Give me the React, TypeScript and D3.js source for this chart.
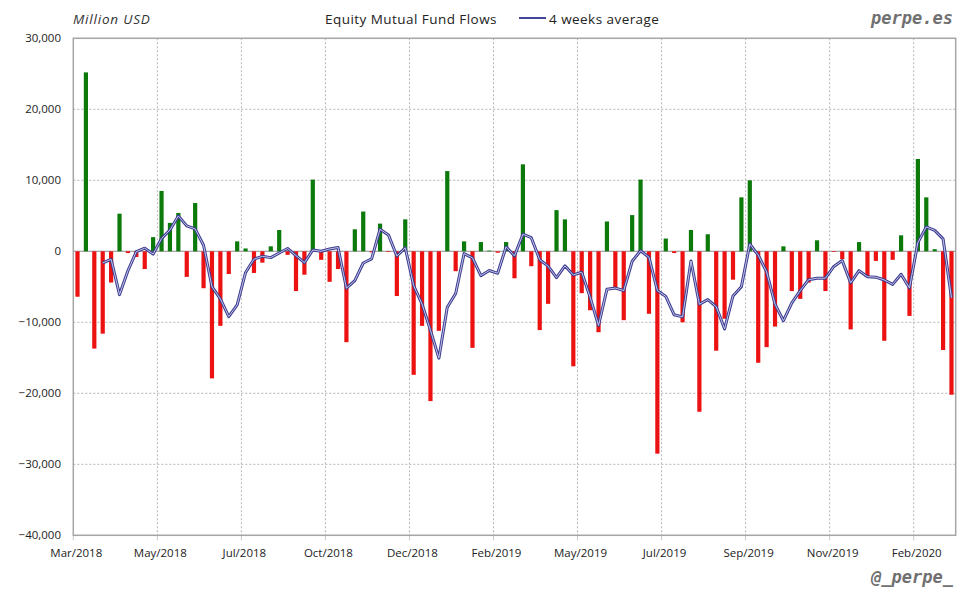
import React from "react";
import * as d3 from "d3";

// Weekly equity mutual fund flows, thousand million USD
const flows: number[] = [
  -6.4, 25.2, -13.7, -11.6, -4.4, 5.3, -0.25, -0.8, -2.5, 2.0,
  8.5, 4.0, 5.4, -3.6, 6.8, -5.2, -17.9, -10.5, -3.2, 1.4,
  0.4, -3.05, -1.6, 0.7, 3.0, -0.5, -5.6, -3.3, 10.1, -1.2,
  -4.3, -2.5, -12.8, 3.1, 5.6, -0.15, 3.9, -0.1, -6.3, 4.5,
  -17.4, -10.5, -21.1, -11.2, 11.3, -2.8, 1.4, -13.6, 1.3, 0.1,
  -0.2, 1.3, -3.8, 12.25, -2.1, -11.1, -7.4, 5.8, 4.5, -16.2,
  -5.9, -8.3, -11.4, 4.2, -5.2, -9.7, 5.1, 10.1, -8.8, -28.5,
  1.8, -0.25, -10.0, 3.0, -22.6, 2.4, -14.0, -9.5, -4.0, 7.6,
  10.0, -15.7, -13.5, -10.6, 0.7, -5.6, -6.7, -4.4, 1.55, -5.6,
  -0.1, -1.1, -11.0, 1.3, -3.5, -1.35, -12.6, -1.2, 2.25, -9.1,
  13.0, 7.6, 0.3, -13.9, -20.2,
];

// 4 weeks average, starting at week index 3
const avgStart = 3;
const avg4: number[] = [
  -1.63, -1.13, -6.1, -2.74, -0.04, 0.44, -0.39, 1.8, 3.0, 4.98,
  3.58, 3.15, 0.85, -4.98, -6.7, -9.2, -7.55, -2.98, -1.11, -0.71,
  -0.89, -0.24, 0.4, -0.6, -1.6, 0.18, 0.0, 0.33, 0.53, -5.2,
  -4.13, -1.65, -1.06, 3.11, 2.31, -0.66, 0.5, -4.83, -7.43, -11.13,
  -15.05, -7.88, -5.95, -0.33, -0.93, -3.43, -2.7, -3.1, 0.63, -0.65,
  2.41, 1.91, -1.19, -2.09, -3.7, -2.05, -3.33, -2.95, -6.48, -10.45,
  -5.35, -5.18, -5.53, -1.4, 0.08, -0.83, -5.53, -6.35, -8.94, -9.24,
  -1.36, -7.46, -6.8, -7.8, -10.93, -6.28, -4.98, 1.03, -0.53, -2.9,
  -7.45, -9.78, -7.25, -5.55, -4.0, -3.79, -3.79, -2.14, -1.31, -4.45,
  -2.73, -3.58, -3.64, -4.04, -4.66, -3.23, -5.16, 1.24, 3.44, 2.95,
  1.75, -6.55,
];

const tickIndex: number[] = [0, 10, 20, 30, 40, 50, 60, 70, 80, 90, 100];
const tickLabels: string[] = [
  "Mar/2018", "May/2018", "Jul/2018", "Oct/2018", "Dec/2018", "Feb/2019",
  "May/2019", "Jul/2019", "Sep/2019", "Nov/2019", "Feb/2020",
];
const yTicks: number[] = [30000, 20000, 10000, 0, -10000, -20000, -30000, -40000];

const W = 980;
const H = 600;
const L = 73.3;
const R = 955.7;
const T = 38.3;
const B = 535.3;
const FONT = "'Open Sans', sans-serif";
const MONO = "'DejaVu Sans Mono', monospace";

export default function App() {
  const x = d3
    .scaleBand<number>()
    .domain(d3.range(flows.length))
    .range([L, R])
    .padding(0);
  const y = d3.scaleLinear().domain([-40000, 30000]).range([B, T]);
  const bw = x.bandwidth();
  const barW = bw * 0.5;
  const fmt = d3.format(",");

  const avgPts: [number, number][] = avg4.map((v, i) => [
    (x(i + avgStart) as number) + bw / 2,
    y(v * 1000),
  ]);
  const line = d3.line().curve(d3.curveLinear)(avgPts) || "";

  return (
    <div style={{ position: "fixed", left: 0, top: 0 }}>
      <svg width={W} height={H} style={{ display: "block", background: "#fff" }}>
        <rect x={0} y={0} width={W} height={H} fill="#fff" />
        {/* horizontal gridlines */}
        {yTicks.map((t) => (
          <line
            key={"h" + t}
            x1={L}
            x2={R}
            y1={y(t)}
            y2={y(t)}
            stroke="#b4b4b4"
            strokeWidth={1}
            strokeDasharray="2,2"
          />
        ))}
        {/* vertical gridlines + ticks */}
        {tickIndex.slice(1).map((ti) => (
          <line
            key={"v" + ti}
            x1={x(ti) as number}
            x2={x(ti) as number}
            y1={T}
            y2={B}
            stroke="#b4b4b4"
            strokeWidth={1}
            strokeDasharray="2,2"
          />
        ))}
        {tickIndex.map((ti) => (
          <line
            key={"tk" + ti}
            x1={x(ti) as number}
            x2={x(ti) as number}
            y1={B}
            y2={B + 5}
            stroke="#c8c8c8"
            strokeWidth={1}
          />
        ))}
        {/* zero line */}
        <line x1={L} x2={R} y1={y(0)} y2={y(0)} stroke="#a8a8a8" strokeWidth={1.2} />
        {/* bars */}
        {flows.map((v, i) => {
          const yv = y(v * 1000);
          const y0 = y(0);
          return (
            <rect
              key={"b" + i}
              x={(x(i) as number) + (bw - barW) / 2}
              y={Math.min(yv, y0)}
              width={barW}
              height={Math.abs(yv - y0)}
              fill={v >= 0 ? "#0b7a0b" : "#ec1212"}
            />
          );
        })}
        {/* 4 weeks average */}
        <path d={line} fill="none" stroke="#3d3d8f" strokeWidth={3} strokeLinejoin="round" />
        <path d={line} fill="none" stroke="#c4c4ec" strokeWidth={1} strokeLinejoin="round" />
        {/* plot border */}
        <rect
          x={L}
          y={T}
          width={R - L}
          height={B - T}
          fill="none"
          stroke="#a6a6a6"
          strokeWidth={1.5}
        />
        {/* y axis labels */}
        {yTicks.map((t) => (
          <text
            key={"yl" + t}
            x={61}
            y={y(t)}
            dy="0.35em"
            textAnchor="end"
            fontFamily={FONT}
            fontSize={11.5}
            fill="#222"
          >
            {fmt(t)}
          </text>
        ))}
        {/* x axis labels */}
        {tickIndex.map((ti, k) => (
          <text
            key={"xl" + ti}
            x={(x(ti) as number) + 3}
            y={557}
            textAnchor="middle"
            fontFamily={FONT}
            fontSize={11.5}
            fill="#222"
          >
            {tickLabels[k]}
          </text>
        ))}
        {/* header */}
        <text
          x={73}
          y={24}
          fontFamily={FONT}
          fontSize={13.5}
          fontStyle="italic"
          letterSpacing={0.8}
          fill="#333"
        >
          Million USD
        </text>
        <text x={325} y={24} fontFamily={FONT} fontSize={13.5} letterSpacing={0.45} fill="#222">
          Equity Mutual Fund Flows
        </text>
        <line x1={519} x2={546} y1={18} y2={18} stroke="#45459a" strokeWidth={2} />
        <text x={549} y={24} fontFamily={FONT} fontSize={13.5} letterSpacing={0.45} fill="#222">
          4 weeks average
        </text>
        <text
          x={953}
          y={24}
          textAnchor="end"
          fontFamily={MONO}
          fontWeight="bold"
          fontStyle="italic"
          fontSize={17}
          fill="#707070"
        >
          perpe.es
        </text>
        <text
          x={953}
          y={583}
          textAnchor="end"
          fontFamily={MONO}
          fontWeight="bold"
          fontStyle="italic"
          fontSize={17}
          fill="#707070"
        >
          @_perpe_
        </text>
      </svg>
    </div>
  );
}
